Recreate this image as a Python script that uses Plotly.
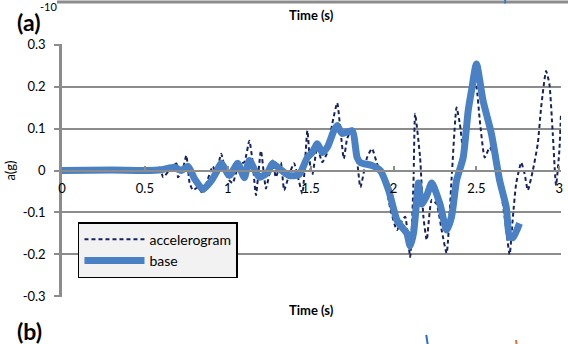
import plotly.graph_objects as go

# ---- data ----
acc_t = [0.00, 0.30, 0.45, 0.55, 0.59, 0.61, 0.65, 0.69, 0.70, 0.73, 0.75, 0.77, 0.79, 0.82, 0.85,
         0.88, 0.91, 0.93, 0.96, 0.99, 1.01, 1.03, 1.05, 1.07, 1.10, 1.13, 1.15, 1.17, 1.20, 1.23,
         1.25, 1.27, 1.29, 1.32, 1.34, 1.37, 1.40, 1.42, 1.45, 1.48, 1.50, 1.51, 1.54, 1.57, 1.60,
         1.63, 1.66, 1.68, 1.70, 1.72, 1.75, 1.78, 1.80, 1.84, 1.87, 1.90, 1.95, 1.98, 2.02, 2.05,
         2.07, 2.10, 2.12, 2.13, 2.16, 2.18, 2.20, 2.23, 2.26, 2.29, 2.32, 2.35, 2.38, 2.40, 2.42,
         2.45, 2.48, 2.50, 2.52, 2.55, 2.58, 2.61, 2.64, 2.67, 2.70, 2.72, 2.74, 2.77, 2.79, 2.81,
         2.84, 2.87, 2.89, 2.92, 2.94, 2.96, 2.98, 3.00, 3.01]
acc_a = [0.000, 0.000, 0.002, 0.000, 0.007, -0.016, 0.002, 0.017, -0.016, 0.005, 0.036, -0.030, -0.047, -0.040, -0.055,
         -0.020, 0.010, -0.008, 0.040, -0.010, -0.024, -0.030, -0.005, 0.015, 0.020, 0.071, 0.020, -0.059, 0.047, -0.043,
         -0.010, 0.024, -0.016, 0.019, -0.047, -0.010, 0.017, -0.010, -0.055, 0.095, 0.000, -0.010, 0.055, 0.020, 0.043,
         0.111, 0.161, 0.095, 0.028, 0.076, 0.100, 0.024, -0.040, 0.031, 0.052, 0.017, -0.030, -0.090, -0.142, -0.120,
         -0.110, -0.206, -0.030, 0.135, 0.031, -0.110, -0.166, -0.070, -0.080, -0.142, -0.197, -0.020, 0.150, 0.111, 0.050,
         0.140, 0.220, 0.200, 0.120, 0.031, 0.055, 0.030, -0.030, -0.110, -0.200, -0.110, -0.030, 0.019, -0.007, -0.047,
         0.000, 0.064, 0.150, 0.237, 0.206, 0.090, -0.035, 0.047, 0.137]

base_t = [0.00, 0.30, 0.50, 0.60, 0.68, 0.72, 0.76, 0.80, 0.85, 0.90, 0.93, 0.96, 1.01, 1.06, 1.10,
          1.13, 1.19, 1.24, 1.27, 1.31, 1.37, 1.43, 1.48, 1.51, 1.54, 1.57, 1.60, 1.64, 1.66, 1.69,
          1.75, 1.78, 1.80, 1.87, 1.92, 1.97, 2.02, 2.05, 2.08, 2.10, 2.12, 2.14, 2.15, 2.17, 2.20,
          2.23, 2.28, 2.32, 2.35, 2.38, 2.42, 2.45, 2.47, 2.50, 2.54, 2.59, 2.64, 2.68, 2.70, 2.72, 2.76]
base_a = [0.000, 0.001, 0.000, 0.002, 0.008, 0.000, 0.010, -0.020, -0.045, -0.025, -0.005, 0.017, -0.012, 0.017, -0.017,
          0.024, -0.016, -0.005, 0.017, 0.005, -0.012, -0.010, 0.031, 0.043, 0.064, 0.043, 0.055, 0.095, 0.107, 0.088,
          0.095, 0.031, 0.019, 0.012, 0.000, -0.047, -0.118, -0.135, -0.150, -0.180, -0.150, -0.070, -0.030, -0.080, -0.060,
          -0.030, -0.080, -0.142, -0.110, -0.024, 0.031, 0.142, 0.190, 0.254, 0.166, 0.088, -0.024, -0.088, -0.159, -0.160, -0.126]

x_ticks = [0, 0.5, 1, 1.5, 2, 2.5, 3]
x_labels = ["0", "0.5", "1", "1.5", "2", "2.5", "3"]
y_ticks = [0.3, 0.2, 0.1, 0, -0.1, -0.2, -0.3]
y_labels = ["0.3", "0.2", "0.1", "0", "-0.1", "-0.2", "-0.3"]

GRID = "#8c8c8c"
FONT = "Lato"

fig = go.Figure()
fig.add_trace(go.Scatter(x=acc_t, y=acc_a, mode="lines", name="accelerogram",
                         line=dict(color="#16235f", width=2, dash="4px,3px", shape="spline", smoothing=0.5)))
fig.add_trace(go.Scatter(x=base_t, y=base_a, mode="lines", name="base",
                         line=dict(color="#4a80c4", width=7, shape="spline", smoothing=0.6)))

fig.update_layout(
    width=568, height=344,
    margin=dict(l=62, r=5, t=44, b=47),
    paper_bgcolor="white", plot_bgcolor="white",
    font=dict(family=FONT, size=13, color="black"),
    showlegend=True,
    legend=dict(x=0.032, y=0.296, xanchor="left", yanchor="top",
                bgcolor="#f2f2f2", bordercolor="black", borderwidth=1.5,
                font=dict(family=FONT, size=14), itemwidth=60),
    xaxis=dict(range=[0, 3.01], tickvals=x_ticks, ticktext=x_labels,
               anchor="free", position=0.5, showline=True, linecolor=GRID, linewidth=2,
               ticks="inside", ticklen=4, tickcolor=GRID, tickwidth=2,
               showgrid=False, zeroline=False, ticklabelstandoff=6,
               tickfont=dict(family=FONT, size=13)),
    yaxis=dict(range=[-0.3015, 0.3015], tickvals=y_ticks, ticktext=y_labels,
               showline=True, linecolor=GRID, linewidth=2.5,
               ticks="outside", ticklen=5, tickcolor=GRID, tickwidth=2,
               showgrid=True, gridcolor=GRID, gridwidth=2, zeroline=False,
               ticklabelstandoff=6, tickfont=dict(family=FONT, size=13),
               title=dict(text="a(g)", font=dict(family=FONT, size=13), standoff=5)),
)

anns = [
    dict(text="<b>Time (s)</b>", x=0.499, y=-0.051, font=dict(size=13)),
    dict(text="<b>Time (s)</b>", x=0.499, y=1.115, font=dict(size=13)),
    dict(text="<b>(a)</b>", x=-0.068, y=1.087, font=dict(size=23)),
    dict(text="<b>(b)</b>", x=-0.066, y=-0.134, font=dict(size=23)),
    dict(text="-10", x=-0.028, y=1.150, font=dict(size=11)),
]
for a in anns:
    fig.add_annotation(xref="paper", yref="paper", showarrow=False,
                       xanchor="center", yanchor="middle", **a)

# decorative fragments of neighbouring panels
fig.add_shape(type="line", xref="paper", yref="paper", x0=-0.01, x1=1.02, y0=1.166, y1=1.166,
              line=dict(color=GRID, width=3))
fig.add_shape(type="line", xref="paper", yref="paper", x0=0.888, x1=0.888, y0=1.16, y1=1.18,
              line=dict(color="#2f7fd0", width=2))
fig.add_shape(type="line", xref="paper", yref="paper", x0=0.730, x1=0.733, y0=-0.15, y1=-0.19,
              line=dict(color="#2f6fc0", width=2))
fig.add_shape(type="line", xref="paper", yref="paper", x0=0.910, x1=0.911, y0=-0.17, y1=-0.19,
              line=dict(color="#e07030", width=2))

fig.write_html("out.html")
